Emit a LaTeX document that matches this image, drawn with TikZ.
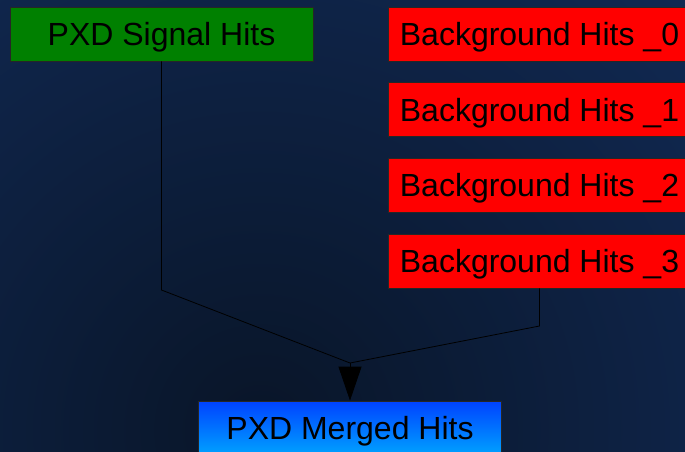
\documentclass[tikz,border=0pt]{standalone}
\usepackage{fontspec}
\setmainfont{Liberation Sans}
\usepackage{xcolor}
\usetikzlibrary{arrows.meta,positioning}
\definecolor{bgdark}{RGB}{9,21,40}
\definecolor{bglight}{RGB}{20,50,102}
\definecolor{sigfill}{RGB}{0,128,0}
\definecolor{bgfill}{RGB}{255,0,0}
\definecolor{mtop}{RGB}{0,66,255}
\definecolor{mbot}{RGB}{0,162,255}

\begin{document}
\begin{tikzpicture}[>=Triangle,x=1pt,y=-1pt]
\tikzset{hb/.style={draw=black!85,line width=0.8pt,minimum width=303pt,minimum height=54pt,inner sep=0pt,text height=23pt,text depth=0pt,font=\fontsize{32}{36}\selectfont,text=black},
  cn/.style={draw=black,line width=0.8pt}}
% background
\useasboundingbox (0,0) rectangle (685,451);
\begin{scope}
\clip (0,0) rectangle (685,451);
\shade[inner color=bgdark,outer color=bglight] (260,430) circle (880);
\end{scope}
% input and output collections
\node[hb,fill=sigfill] (sig) at (161.5,34) {PXD Signal Hits};
\node[hb,fill=bgfill] (bg0) at (539.5,34) {Background Hits \_0};
\node[hb,fill=bgfill] (bg1) at (539.5,109.5) {Background Hits \_1};
\node[hb,fill=bgfill] (bg2) at (539.5,185) {Background Hits \_2};
\node[hb,fill=bgfill] (bg3) at (539.5,261) {Background Hits \_3};
\node[hb,top color=mtop,bottom color=mbot] (merged) at (350,428) {PXD Merged Hits};
% merge lines
\coordinate (sigbend) at (161.5,290); \coordinate (bgbend) at (539.5,326); \coordinate (merge) at (350,363);
\draw[cn](sig.south)--(sigbend)--(merge);
\draw[cn](bg3.south)--(bgbend)--(merge);
\draw[cn,-{Triangle[length=34pt,width=23pt]}](merge)--(merged.north);
\end{tikzpicture}
\end{document}
